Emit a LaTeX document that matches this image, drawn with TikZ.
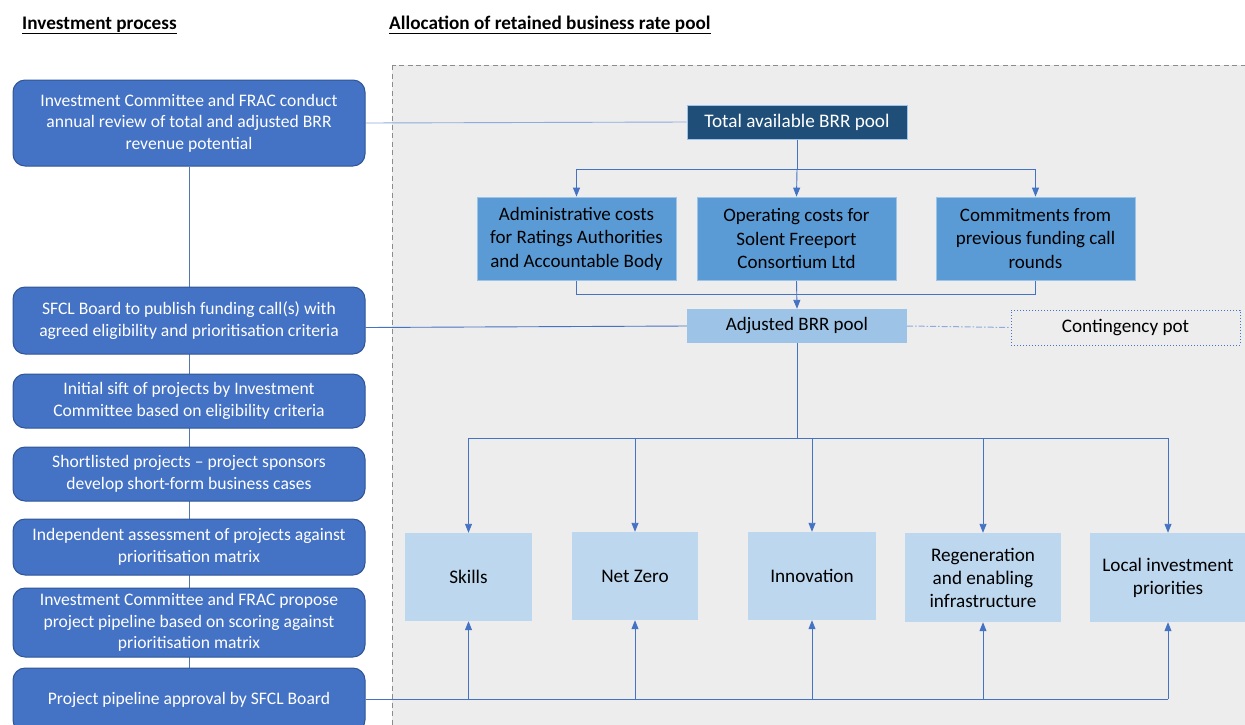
\documentclass[tikz,border=0pt]{standalone}
\usepackage{fontspec}
\setmainfont{Carlito}
\usetikzlibrary{arrows.meta,backgrounds}
\definecolor{procblue}{HTML}{4472C4}
\definecolor{procedge}{HTML}{2F5597}
\definecolor{darkpool}{HTML}{1F4E79}
\definecolor{midblue}{HTML}{5B9BD5}
\definecolor{midedge}{HTML}{9DC3E6}
\definecolor{adjblue}{HTML}{9DC3E6}
\definecolor{lightblue}{HTML}{BDD7EE}
\definecolor{panelgray}{HTML}{EDEDED}
\definecolor{framegray}{HTML}{8C8C8C}
\definecolor{linkblue}{HTML}{4472C4}
\definecolor{softlink}{HTML}{8FAADC}
\begin{document}
\begin{tikzpicture}[x=1pt,y=-1pt,
  procbox/.style={draw=procedge,line width=1pt,fill=procblue,rounded corners=12pt,
    text=white,align=center,inner sep=0pt,minimum width=352pt,
    font=\fontsize{17.6}{21.5}\selectfont},
  poolbox/.style={fill=darkpool,draw=midedge,line width=0.6pt,text=white,inner sep=0pt,
    minimum width=220pt,minimum height=34pt,font=\fontsize{19.2}{23}\selectfont},
  costbox/.style={fill=midblue,draw=midedge,line width=0.8pt,text=black,align=center,
    inner sep=0pt,minimum width=199pt,minimum height=83pt,
    font=\fontsize{19}{23.5}\selectfont},
  adjbox/.style={fill=adjblue,draw=none,text=black,inner sep=0pt,
    minimum width=220pt,minimum height=34pt,font=\fontsize{19}{23}\selectfont},
  contbox/.style={draw=linkblue,dotted,line width=1pt,text=black,inner sep=0pt,
    minimum width=229pt,minimum height=35pt,font=\fontsize{19.2}{23}\selectfont},
  themebox/.style={fill=lightblue,draw=none,text=black,align=center,inner sep=0pt,
    minimum height=88pt,font=\fontsize{19.2}{23}\selectfont},
  heading/.style={anchor=base west,inner sep=0pt,font=\fontsize{19.2}{22}\selectfont\bfseries},
  conn/.style={draw=linkblue,line width=0.9pt},
  arr/.style={conn,-{Triangle[length=9pt,width=7pt]}}
]
\useasboundingbox (0,0) rectangle (1245,724);
\clip (0,0) rectangle (1245,724);

% headings
\node[heading] (h1) at (22,29) {\underline{Investment process}};
\node[heading] (h2) at (389,29) {\underline{Allocation of retained business rate pool}};

% process boxes
\node[procbox,minimum height=86pt] (p1) at (189,123) {Investment Committee and FRAC conduct\\annual review of total and adjusted BRR\\revenue potential};
\node[procbox,minimum height=67pt] (p2) at (189,320.5) {SFCL Board to publish funding call(s) with\\agreed eligibility and prioritisation criteria};
\node[procbox,minimum height=54pt] (p3) at (189,401) {Initial sift of projects by Investment\\Committee based on eligibility criteria};
\node[procbox,minimum height=54pt] (p4) at (189,474) {Shortlisted projects -- project sponsors\\develop short-form business cases};
\node[procbox,minimum height=56pt] (p5) at (189,547) {Independent assessment of projects against\\prioritisation matrix};
\node[procbox,minimum height=69pt] (p6) at (189,622.5) {Investment Committee and FRAC propose\\project pipeline based on scoring against\\prioritisation matrix};
\node[procbox,minimum height=64pt] (p7) at (189,700) {Project pipeline approval by SFCL Board};

% pool boxes
\node[poolbox] (total) at (797,122) {Total available BRR pool};
\node[costbox] (admin) at (576.5,238.5) {Administrative costs\\for Ratings Authorities\\and Accountable Body};
\node[costbox] (oper) at (796.5,238.5) {Operating costs for\\Solent Freeport\\Consortium Ltd};
\node[costbox] (commit) at (1035.5,238.5) {Commitments from\\previous funding call\\rounds};
\node[adjbox] (adj) at (797,326) {Adjusted BRR pool};
\node[contbox] (cont) at (1125.5,327.5) {Contingency pot};

% theme boxes
\node[themebox,minimum width=127pt] (skills) at (468.5,577) {Skills};
\node[themebox,minimum width=126pt] (netzero) at (635,576) {Net Zero};
\node[themebox,minimum width=128pt] (innov) at (812,576) {Innovation};
\node[themebox,minimum width=156pt,minimum height=89pt] (regen) at (983,577.5) {Regeneration\\and enabling\\infrastructure};
\node[themebox,minimum width=156pt,minimum height=89pt] (local) at (1168,577.5) {Local investment\\priorities};

\coordinate (j1) at (797,169);
\coordinate (j2) at (797,294);
\coordinate (j3) at (797,438);

\begin{pgfonlayer}{background}
  \draw[framegray,fill=panelgray,line width=1pt,dash pattern=on 5pt off 3.5pt] (392,65) rectangle (1265,745);
  % process spine
  \draw[conn,draw=procblue!70!gray] (p1.south) -- (p7.north);
  % links from process to pool
  \draw[conn,draw=softlink] (p1.east) -- (total.west);
  \draw[conn] (p2.east |- adj.west) ++(0,1.5) -- (adj.west);
  % total -> costs
  \draw[conn] (total.south) -- (j1);
  \draw[arr] (j1) -| (admin.north);
  \draw[arr] (j1) -- (oper.north);
  \draw[arr] (j1) -| (commit.north);
  % costs -> adjusted
  \draw[conn] (admin.south) |- (j2);
  \draw[conn] (commit.south) |- (j2);
  \draw[arr] (oper.south) -- (adj.north);
  % contingency
  \draw[draw=softlink,line width=1pt,dash pattern=on 6pt off 2pt on 1.5pt off 2pt] (adj.east) -- (cont.west);
  % adjusted -> themes
  \draw[conn] (adj.south) -- (j3);
  \draw[arr] (j3) -| (skills.north);
  \draw[arr] (j3) -| (netzero.north);
  \draw[arr] (j3) -| (innov.north);
  \draw[arr] (j3) -| (regen.north);
  \draw[arr] (j3) -| (local.north);
  % approval -> themes
  \draw[conn] (p7.east) ++(0,-1) coordinate (a0) -- (a0 -| local.south);
  \draw[arr] (a0 -| skills.south) -- (skills.south);
  \draw[arr] (a0 -| netzero.south) -- (netzero.south);
  \draw[arr] (a0 -| innov.south) -- (innov.south);
  \draw[arr] (a0 -| regen.south) -- (regen.south);
  \draw[arr] (a0 -| local.south) -- (local.south);
\end{pgfonlayer}
\end{tikzpicture}
\end{document}
